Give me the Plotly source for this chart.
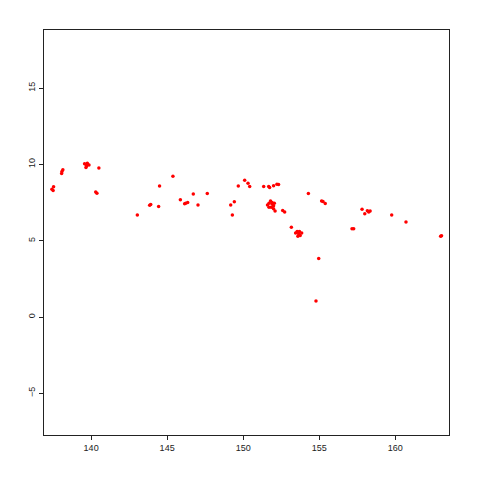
import plotly.graph_objects as go

lon = [137.42, 137.53, 137.50, 138.08, 138.14, 138.06,
       139.57, 139.70, 139.86, 139.66, 139.68, 139.75, 140.51, 140.38, 140.30,
       143.04, 143.85, 143.92, 144.44, 144.50, 145.38, 145.87, 146.22, 146.15, 146.35,
       146.72, 147.03, 147.64, 149.18, 149.42, 149.29, 149.68,
       150.10, 150.32, 150.43, 151.35, 151.74, 151.68, 152.00, 152.22, 152.33,
       151.60, 151.70, 151.80, 151.90, 152.00, 151.85, 152.00, 151.70, 151.90, 152.05, 152.10,
       152.60, 152.73, 153.17,
       153.45, 153.55, 153.65, 153.75, 153.85, 153.60, 153.70,
       154.29, 154.97, 155.16, 155.25, 155.40, 157.16, 157.27,
       157.82, 158.00, 158.26, 158.17, 158.35, 159.77, 160.71, 162.99, 163.05, 154.79]
lat = [8.38, 8.53, 8.29, 9.54, 9.65, 9.40,
       10.04, 9.89, 9.97, 9.80, 9.97, 10.08, 9.76, 8.12, 8.20,
       6.68, 7.33, 7.38, 7.24, 8.58, 9.23, 7.68, 7.46, 7.42, 7.50,
       8.07, 7.35, 8.10, 7.35, 7.55, 6.68, 8.58,
       8.97, 8.77, 8.55, 8.55, 8.49, 8.55, 8.60, 8.71, 8.69,
       7.35, 7.45, 7.60, 7.50, 7.30, 7.20, 7.10, 7.20, 7.40, 7.45, 6.95,
       6.98, 6.88, 5.89,
       5.50, 5.60, 5.45, 5.35, 5.50, 5.30, 5.60,
       8.10, 3.84, 7.60, 7.57, 7.44, 5.78, 5.78,
       7.07, 6.77, 6.88, 6.96, 6.95, 6.68, 6.22, 5.30, 5.33, 1.05]

x_ticks = [140, 145, 150, 155, 160]
y_ticks = [-5, 0, 5, 10, 15]

fig = go.Figure(go.Scatter(
    x=lon, y=lat, mode="markers",
    marker=dict(color="#ff0000", size=3.5, line=dict(width=0)),
    hoverinfo="skip"))

axis_common = dict(showgrid=False, zeroline=False, showline=True, mirror=True,
                   linecolor="#222222", linewidth=1, ticks="outside", ticklen=4,
                   tickcolor="#222222", tickfont=dict(family="Liberation Sans, Arial", size=9, color="#222222"))

fig.update_layout(
    width=472, height=472,
    margin=dict(l=36, r=31, t=22, b=45),
    paper_bgcolor="white", plot_bgcolor="white",
    showlegend=False,
    xaxis=dict(range=[136.9, 163.54], tickvals=x_ticks, **axis_common),
    yaxis=dict(range=[-7.73, 18.81], tickvals=y_ticks, tickangle=-90, **axis_common),
)

fig.write_html("out.html")
